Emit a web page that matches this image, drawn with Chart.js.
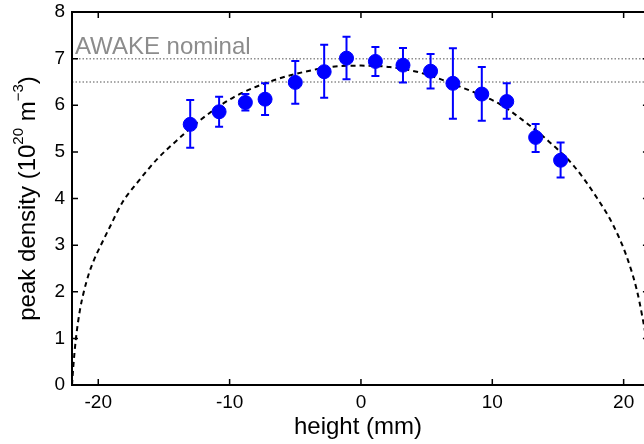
<!DOCTYPE html>
<html>
<head>
<meta charset="utf-8">
<script src="https://cdn.jsdelivr.net/npm/chart.js@4"></script>
<style>
  html, body { margin: 0; padding: 0; background: #fff; overflow: hidden; }
  #wrap { position: relative; width: 644px; height: 444px; }
</style>
</head>
<body>
<div id="wrap"><canvas id="densityChart"></canvas></div>
<script>
// measured points (height in mm, peak density in 1e20 m^-3)
const heights = [-13, -10.8, -8.8, -7.3, -5.0, -2.8, -1.1, 1.1, 3.2, 5.3, 7.0, 9.2, 11.1, 13.3, 15.2];
const densities = [5.59, 5.86, 6.06, 6.13, 6.49, 6.72, 7.01, 6.94, 6.86, 6.73, 6.47, 6.24, 6.08, 5.31, 4.82];
const errHigh = [6.11, 6.18, 6.24, 6.47, 6.95, 7.30, 7.47, 7.25, 7.23, 7.10, 7.22, 6.82, 6.47, 5.60, 5.20];
const errLow = [5.09, 5.54, 5.89, 5.79, 6.03, 6.16, 6.56, 6.63, 6.49, 6.36, 5.71, 5.67, 5.71, 5.00, 4.45];

// dashed fit curve
const fitX = [-22, -21.9, -21.7, -21.4, -21.1, -20.7, -20.3, -19.8, -19.1, -18.2, -17.0, -15.5, -14.0, -12.2, -9.7, -6.7, -3.4, -1.6, 0,
              2.2, 4.5, 7.8, 10.6, 12.6, 14.0, 16.2, 18.0, 19.2, 20.2, 21.0, 21.4, 21.7, 21.9, 22];
const fitY = [0, 0.4, 1.0, 1.6, 2.0, 2.4, 2.7, 3.0, 3.4, 3.9, 4.35, 4.85, 5.25, 5.69, 6.17, 6.53, 6.77, 6.84, 6.85,
              6.82, 6.70, 6.37, 6.02, 5.62, 5.30, 4.70, 4.0, 3.43, 2.78, 2.04, 1.5, 1.0, 0.45, 0];

// AWAKE nominal band
const nominalHigh = 7;
const nominalLow = 6.5;

// axis box goes to 22 mm, the figure is cut a little before that
const xBox = [-22, 22];
const xVisibleMax = 21.55;

const xTicks = [-20, -10, 0, 10, 20];
const yTicks = [0, 1, 2, 3, 4, 5, 6, 7, 8];

const FONT = "'Liberation Sans', Arial, Helvetica, sans-serif";

// no automatic label overflow padding, the layout is fixed by hand
function noPad(s) {
    s.paddingTop = 0; s.paddingBottom = 0; s.paddingLeft = 0; s.paddingRight = 0;
}

// box, inward ticks, error bars, labels
const decorations = {
    id: 'decorations',
    afterDatasetsDraw(chart) {
        const { ctx, chartArea: a, scales: { x, y } } = chart;
        const boxRight = x.getPixelForValue(xBox[1]);
        ctx.save();

        // error bars
        ctx.strokeStyle = '#0000ff';
        ctx.lineWidth = 2;
        heights.forEach((h, i) => {
            const px = x.getPixelForValue(h);
            const top = y.getPixelForValue(errHigh[i]);
            const bot = y.getPixelForValue(errLow[i]);
            ctx.beginPath();
            ctx.moveTo(px, top); ctx.lineTo(px, bot);
            ctx.moveTo(px - 4, top); ctx.lineTo(px + 4, top);
            ctx.moveTo(px - 4, bot); ctx.lineTo(px + 4, bot);
            ctx.stroke();
        });

        // frame
        ctx.strokeStyle = '#000';
        ctx.lineWidth = 2;
        ctx.strokeRect(a.left, a.top, boxRight - a.left, a.bottom - a.top);

        // inward ticks
        ctx.lineWidth = 1.5;
        ctx.beginPath();
        xTicks.forEach(v => {
            const px = x.getPixelForValue(v);
            ctx.moveTo(px, a.bottom); ctx.lineTo(px, a.bottom - 6);
            ctx.moveTo(px, a.top); ctx.lineTo(px, a.top + 6);
        });
        yTicks.forEach(v => {
            const py = y.getPixelForValue(v);
            ctx.moveTo(a.left, py); ctx.lineTo(a.left + 6, py);
            ctx.moveTo(boxRight, py); ctx.lineTo(boxRight - 7, py);
        });
        ctx.stroke();

        // nominal label
        ctx.fillStyle = '#8c8c8c';
        ctx.font = '24px ' + FONT;
        ctx.textAlign = 'left';
        ctx.textBaseline = 'alphabetic';
        ctx.fillText('AWAKE nominal', a.left + 3, y.getPixelForValue(nominalHigh) - 5);

        // y title with superscripts
        const parts = [
            ['peak density (10', 24, 0],
            ['20', 15, 9],
            [' m', 24, 0],
            ['\u22123', 15, 9],
            [')', 24, 0]
        ];
        let total = 0;
        parts.forEach(p => { ctx.font = p[1] + 'px ' + FONT; total += ctx.measureText(p[0]).width; });
        ctx.translate(27, (a.top + a.bottom) / 2);
        ctx.rotate(-Math.PI / 2);
        ctx.fillStyle = '#000';
        ctx.textBaseline = 'middle';
        let cx = -total / 2;
        parts.forEach(p => {
            ctx.font = p[1] + 'px ' + FONT;
            ctx.fillText(p[0], cx, 1 - p[2]);
            cx += ctx.measureText(p[0]).width;
        });
        ctx.restore();
    }
};

const ctx = document.getElementById('densityChart').getContext('2d');
const chart = new Chart(ctx, {
    data: {
        datasets: [{
            type: 'scatter',
            label: 'measured',
            data: heights.map((h, i) => ({ x: h, y: densities[i] })),
            backgroundColor: '#0000ff',
            borderColor: '#0000ff',
            pointRadius: 7,
            pointHoverRadius: 7,
            order: 1
        }, {
            type: 'line',
            label: 'fit',
            data: fitX.map((v, i) => ({ x: v, y: fitY[i] })),
            borderColor: '#000',
            borderWidth: 2,
            borderDash: [5, 4],
            pointRadius: 0,
            fill: false,
            cubicInterpolationMode: 'monotone',
            order: 2
        }, {
            type: 'line',
            label: 'nominal high',
            data: xBox.map(v => ({ x: v, y: nominalHigh })),
            borderColor: '#8c8c8c',
            borderWidth: 1.5,
            borderDash: [1.5, 2],
            pointRadius: 0,
            order: 3
        }, {
            type: 'line',
            label: 'nominal low',
            data: xBox.map(v => ({ x: v, y: nominalLow })),
            borderColor: '#8c8c8c',
            borderWidth: 1.5,
            borderDash: [1.5, 2],
            pointRadius: 0,
            order: 3
        }]
    },
    options: {
        responsive: true,
        maintainAspectRatio: false,
        animation: false,
        layout: { autoPadding: false, padding: { top: 12, right: 0, left: 0, bottom: 0 } },
        plugins: { legend: { display: false }, tooltip: { enabled: false } },
        scales: {
            x: {
                type: 'linear',
                min: xBox[0],
                max: xVisibleMax,
                afterBuildTicks: s => { s.ticks = xTicks.map(v => ({ value: v })); },
                afterFit: s => { s.height = 59; noPad(s); },
                grid: { display: false, drawTicks: false },
                border: { display: false },
                ticks: { color: '#000', font: { family: FONT, size: 19 }, padding: 6 },
                title: {
                    display: true,
                    text: 'height (mm)',
                    color: '#000',
                    font: { family: FONT, size: 24 },
                    padding: { top: 0, bottom: 2 }
                }
            },
            y: {
                type: 'linear',
                min: 0,
                max: 8,
                afterBuildTicks: s => { s.ticks = yTicks.map(v => ({ value: v })); },
                afterFit: s => { s.width = 72; noPad(s); },
                grid: { display: false, drawTicks: false },
                border: { display: false },
                ticks: { color: '#000', font: { family: FONT, size: 19 }, padding: 7 }
            }
        }
    },
    plugins: [decorations]
});
</script>
</body>
</html>
